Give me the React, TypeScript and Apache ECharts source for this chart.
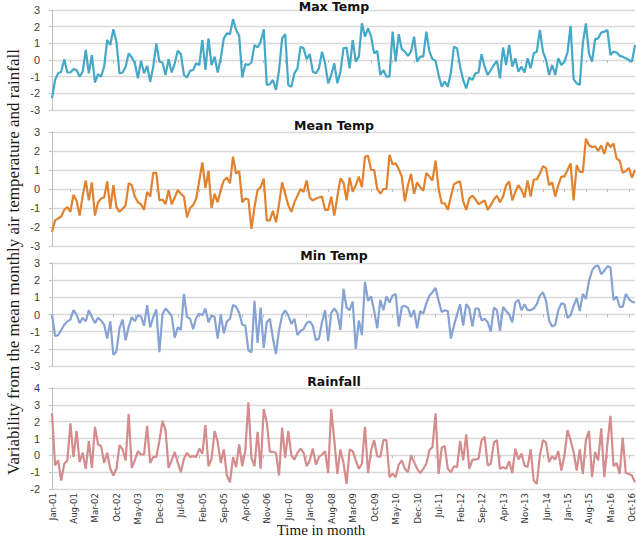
import React, { useEffect, useRef } from 'react';
import * as echarts from 'echarts';

const MONTHS = ['Jan', 'Feb', 'Mar', 'Apr', 'May', 'Jun', 'Jul', 'Aug', 'Sep', 'Oct', 'Nov', 'Dec'];
const N_MONTHS = 191; // Jan-01 .. Nov-16
const categories: string[] = [];
for (let y = 1; y <= 16; y++) {
  for (let m = 0; m < 12; m++) {
    if (categories.length < N_MONTHS) categories.push(`${MONTHS[m]}-${String(y).padStart(2, '0')}`);
  }
}

const panelTitles = ['Max Temp', 'Mean Temp', 'Min Temp', 'Rainfall'];

const maxTemp = [
  -2.3, -1.2, -0.8, -0.7, 0.05, -0.75, -0.75, -0.55, -0.6, -1.0,
  -0.7, 0.6, -0.8, 0.3, -1.35, -0.85, -1.0, -0.4, 1.2, 0.9,
  1.85, 1.1, -0.8, -0.75, -0.4, 0.4, 0.15, -0.2, -1.1, -0.05,
  -0.8, -0.35, -1.3, -0.4, 1.0, -0.1, -0.15, -0.9, 0.05, -0.75,
  -0.2, 0.55, 0.35, -0.9, -1.05, -0.65, -0.6, -0.2, -0.3, 1.2,
  -0.6, 1.3, -0.3, 0.2, -0.75, 0.1, 1.3, 1.6, 1.55, 2.45,
  1.8, 1.45, -1.05, -0.25, -0.3, -0.15, 0.9, 0.75, 1.1, 1.85,
  -1.5, -1.45, -1.2, -1.8, -0.6, 1.3, 1.55, -1.5, -1.6, -0.8,
  -0.5, 0.8, 0.7, 0.05, 0.35, -0.7, -0.8, -0.5, 0.5,
  -0.2, -1.4, -0.9, -0.2, -1.4, -0.7, 0.7, 0.75, -0.5, 1.2,
  -0.1, 0.2, 2.2, 1.4, 1.9, 1.4, 0.4, 0.55, -0.9, -0.6,
  -1.0, -1.0, 1.7, -0.1, 1.55, 0.65, 0.5, 0.25, 0.5, 1.4,
  -0.1, 0.2, 0.2, 1.7, 0.5, 0.05, -0.05, -0.9, -1.6, -1.3,
  -1.6, -0.75, 0.8, 0.7, -0.4, -1.2, -1.7, -1.05, -1.2, -0.8,
  -0.75, 0.35, -0.4, -0.9, -0.6, -0.3, -0.05, -1.1, 0.75, -0.3,
  0.9, -0.4, 0.1, -0.7, -0.4, -0.75, 0.1, -0.5, 0.4, 0.5,
  1.8, 0.5, 0.0, -0.9, -0.3, -0.9, 0.1, -0.3, -0.1, 0.45,
  2.05, -1.15, -1.4, -1.5, 1.0, 2.2, 0.4, -0.1, 1.25, 1.3,
  1.65, 1.7, 1.8, 0.3, 0.5, 0.45, 0.25, 0.2, 0.1, 0.0,
  -0.1, 0.9,
];

const meanTemp = [
  -2.25, -1.65, -1.55, -1.45, -1.1, -0.95, -1.2, -0.3, -0.6, -1.4,
  -0.35, 0.45, -0.6, 0.35, -1.4, -0.7, -0.5, -0.45, 0.4, -1.05,
  0.2, -0.95, -1.2, -1.05, -0.85, 0.3, 0.2, -0.4, -0.7, -0.8,
  -1.1, -0.15, -0.4, 0.85, 0.85, -0.6, -0.55, -0.8, -0.05, -0.8,
  -0.45, -0.05, -0.25, -0.4, -1.5, -1.0, -0.85, -0.5, 0.45, 1.4,
  0.05, 0.95, -1.0, -0.25, -0.7, -0.05, 0.45, 0.6, 0.3, 1.7,
  0.8, 0.95, -0.7, -0.5, -0.55, -2.1, -0.95, -0.05, 0.1, 0.55,
  -1.65, -1.65, -1.15, -1.75, -0.8, 0.35, -0.25, -0.85, -1.2, -0.7,
  -0.35, 0.0, -0.15, 0.45, -0.45,
  -0.6, -0.5, -0.45, -0.4, -1.1, -1.1, -0.4, -1.4, -0.4, 0.55,
  0.35, -0.6, 0.6, -0.15, 0.2, 0.65, 0.1, 1.7, 1.75, 1.0,
  1.0, 0.0, -0.25, 0.0, 0.0, 1.8, 1.3, 1.35, 1.05, 0.65,
  -0.65, 0.2, 0.8, -0.25, 0.35, 0.1, -0.1, 0.85, 0.65, 0.45,
  1.5, 0.0, -0.75, -0.75, -1.1, -0.4, 0.25, 0.35, 0.4, -0.65,
  -1.1, -0.5, -0.35, -0.55, -0.8, -0.7, -0.6, -1.1, -0.85, -0.55,
  -0.35, -0.7, -0.4, 0.2, 0.4, -0.6, -0.15, 0.2, -0.05, -0.45,
  0.45, -0.4, 0.5, 0.5, 0.8, 1.2, 1.1, 0.2, 0.35, -0.4,
  0.2, 0.65, 0.65, 1.0, 1.35, -0.6, 1.25, 0.9, 0.9, 2.65,
  2.3, 2.2, 2.25, 2.0, 2.3, 1.85, 2.45, 2.2, 2.4, 1.6,
  1.5, 0.85, 0.95, 1.1, 0.6, 1.0,
];

const minTemp = [
  0.0, -1.25, -1.2, -0.9, -0.6, -0.4, -0.3, 0.25, 0.0, -0.5,
  -0.2, -0.4, 0.25, -0.15, -0.5, -0.2, -0.35, -0.6, -1.4, -0.4,
  -2.35, -2.15, -0.8, -0.3, -1.5, -0.7, -0.15, -0.4, -0.05, -0.1,
  -0.65, 0.55, -0.75, -0.15, 0.3, -2.2, 0.0, 0.35, 0.15, -0.1,
  -1.35, -0.75, -0.9, 1.2, -0.15, -0.25, -0.85, -0.2, 0.05, -0.05,
  0.35, -0.45, -0.05, -0.15, -1.4, 0.0, -1.1, -0.4, -0.25, 0.55,
  0.45, 0.1, -0.6, -0.65, -2.1, -2.2, 0.8, -1.65, 0.4, -1.95,
  -0.45, -0.25, -1.4, -2.3, -0.9, -0.05, 0.25, -0.05, -0.55, -0.25,
  -1.2, -0.95, -0.85, -0.5,
  -0.4, -0.65, -1.5, -1.4, -0.45, 0.25, -1.55, 0.1, 0.35, 0.1,
  -0.9, 1.5, 0.4, 0.25, 0.75, -2.0, -0.35, -1.2, 1.9, 0.8,
  1.05, 0.2, -0.8, 0.85, 0.25, 1.05, 0.7, 1.1, 1.2, -0.7,
  0.45, 0.5, 0.4, -0.15, 0.25, -0.8, 0.2, 0.05, 0.65, 1.1,
  1.3, 1.55, 0.8, 0.15, 0.25, 0.2, -1.4, -0.65, 0.0, 0.6,
  -0.65, 0.6, 0.35, -0.7, 0.35, 0.35, -0.35, -0.25, -0.45, -1.0,
  0.4, 0.25, -0.95, 0.45, 0.2, 0.0, -0.45, 0.7, 0.85, 0.25,
  0.6, 0.25, 0.25, 0.35, 0.6, 1.1, 1.3, 0.8, -0.35, -0.7,
  -0.6, 0.25, 0.65, 0.6, -0.2, -0.05, 0.5, 0.95, 0.2, 1.2,
  0.9, 1.95, 2.55, 2.8, 2.85, 2.35, 2.55, 2.8, 2.75, 0.85,
  1.05, 0.45, 0.45, 1.2, 0.9, 0.75, 0.7,
];

const rainfall = [
  2.5, -0.6, -0.3, -1.5, -0.5, -0.3, 1.9, -0.1, 1.45, -0.4,
  0.15, -0.8, 0.85, -0.75, 1.7, 0.65, 0.55, -0.45, 0.15, -0.8,
  -1.2, -0.8, 0.6, 0.35, -0.3, 2.45, -0.75, -0.3, 0.25, 0.05,
  0.05, 1.75, -0.45, -0.1, -0.1, 0.85, 2.05, 1.5, -0.75, -0.3,
  0.2, -0.45, -1.0, -0.2, 0.15, -0.1, -0.05, -0.1, 0.4, 0.1,
  1.8, -0.65, -0.2, 1.45, 0.8, -0.45, 0.35, -1.2, -1.6, -0.1,
  -0.7, 0.65, -0.65, 0.3, 3.15, -0.15, -0.65, 1.4, -0.8, 2.75,
  1.95, 0.2, 0.2, 0.15, -1.2, 1.65, -0.15, 1.45, 0.0, -0.25,
  0.15, 0.4, 0.15, -0.65, -0.3,
  0.4, -0.55, -0.1, 0.05, 0.25, -1.05, 2.75, 0.9, -1.1, 0.35,
  -0.45, -1.7, 0.35, 0.25, -0.3, -0.8, -0.5, 1.7, -1.05, 0.3,
  0.9, -0.05, -0.1, 0.9, 0.9, -1.3, -1.1, -1.3, -0.55, -0.3,
  -0.8, -1.0, 0.0, -0.4, -0.8, -1.05, -0.8, -0.5, 0.3, 0.5,
  2.5, -1.1, 0.45, 0.55, -0.8, -1.0, -0.65, -0.7, 0.85, -0.3,
  1.25, -0.8, -0.25, -0.25, -0.2, 0.9, 1.1, -0.6, -0.5, 0.75,
  0.9, -0.8, -0.7, -0.8, -0.35, -1.05, 0.4, -0.25, 0.1, -0.6,
  -0.7, 0.35, -1.5, -1.7, 0.0, 0.9, 0.75, -0.4, -0.05, -0.25,
  0.25, -0.9, 0.0, 1.5, 0.9, 0.2, -0.9, 0.35, -1.1, 0.9,
  1.45, -1.3, 0.2, -0.3, 1.6, -1.3, 0.65, 2.35, -0.65, -0.45,
  -1.1, 1.05, -1.05, -1.1, -1.2, -1.6,
];

const seriesData = [maxTemp, meanTemp, minTemp, rainfall];
const lineColors = ['#45a8c7', '#e2822f', '#87a3d3', '#d48c8c'];
const yMins = [-3, -3, -3, -2];
const yMaxs = [3, 3, 3, 4];

const GRID_LEFT = 52;
const GRID_RIGHT = 2;
const gridTops = [10, 132, 263, 388];
const gridHeights = [100, 114, 103, 101];
const titleY = [6, 125, 255, 381];
const TITLE_X = 334;

export default function App() {
  const ref = useRef<HTMLDivElement>(null);

  useEffect(() => {
    document.body.style.margin = '0';
    if (!ref.current) return;
    const chart = echarts.init(ref.current, undefined, { renderer: 'svg' });

    const grids = gridTops.map((t, i) => ({
      left: GRID_LEFT,
      right: GRID_RIGHT,
      top: t,
      height: gridHeights[i],
      containLabel: false,
    }));

    const xAxes: any[] = [];
    for (let g = 0; g < 4; g++) {
      xAxes.push({
        type: 'category',
        gridIndex: g,
        data: categories,
        boundaryGap: false,
        axisLine: { show: false, onZero: true },
        axisTick: {
          show: true,
          length: 3,
          interval: (idx: number) => idx % 7 === 6,
          lineStyle: { color: '#bdbdbd', width: 1 },
        },
        axisLabel: { show: false },
        splitLine: { show: false },
      });
    }
    xAxes.push({
      type: 'category',
      gridIndex: 3,
      data: categories,
      boundaryGap: false,
      position: 'bottom',
      axisLine: { show: false, onZero: false },
      axisTick: { show: false },
      splitLine: { show: false },
      axisLabel: {
        show: true,
        interval: (idx: number) => idx % 7 === 0,
        rotate: 90,
        margin: 4,
        fontSize: 9.5,
        color: '#333333',
        fontFamily: '"Liberation Sans Narrow", "DejaVu Sans Condensed", "Liberation Sans", sans-serif',
      },
    });

    const yAxes = [0, 1, 2, 3].map((g) => ({
      type: 'value',
      gridIndex: g,
      min: yMins[g],
      max: yMaxs[g],
      interval: 1,
      axisLine: { show: true, lineStyle: { color: '#bfbfbf', width: 1 } },
      axisTick: { show: true, length: 3, lineStyle: { color: '#bfbfbf' } },
      axisLabel: {
        fontSize: 11,
        color: '#404040',
        margin: 12,
        fontFamily: '"Liberation Sans", Arial, sans-serif',
      },
      splitLine: { show: true, lineStyle: { color: '#d9d9d9', width: 1.3 } },
    }));

    const series = seriesData.map((d, g) => ({
      type: 'line',
      name: panelTitles[g],
      xAxisIndex: g,
      yAxisIndex: g,
      data: d,
      showSymbol: false,
      symbol: 'none',
      lineStyle: { color: lineColors[g], width: 2.2 },
      itemStyle: { color: lineColors[g] },
    }));

    const graphic: any[] = panelTitles.map((t, g) => ({
      type: 'text',
      x: TITLE_X,
      y: titleY[g],
      z: 100,
      style: {
        text: t,
        font: 'bold 12.5px "DejaVu Sans", sans-serif',
        fill: '#111111',
        align: 'center',
        verticalAlign: 'middle',
        textAlign: 'center',
        textVerticalAlign: 'middle',
      },
    }));
    graphic.push({
      type: 'text',
      x: 13,
      y: 262,
      rotation: Math.PI / 2,
      style: {
        text: 'Variability from the mean monthly air temperature and rainfall',
        font: '17px "Liberation Serif", "Times New Roman", serif',
        fill: '#1a1a1a',
        align: 'center',
        verticalAlign: 'middle',
        textAlign: 'center',
        textVerticalAlign: 'middle',
      },
    });
    graphic.push({
      type: 'text',
      x: 321,
      y: 530,
      style: {
        text: 'Time in month',
        font: '15px "Liberation Serif", "Times New Roman", serif',
        fill: '#1a1a1a',
        align: 'center',
        verticalAlign: 'middle',
        textAlign: 'center',
        textVerticalAlign: 'middle',
      },
    });

    chart.setOption({
      animation: false,
      backgroundColor: '#ffffff',
      grid: grids,
      xAxis: xAxes,
      yAxis: yAxes,
      series,
      graphic,
    });

    return () => {
      chart.dispose();
    };
  }, []);

  return <div ref={ref} style={{ width: 637, height: 540 }} />;
}
